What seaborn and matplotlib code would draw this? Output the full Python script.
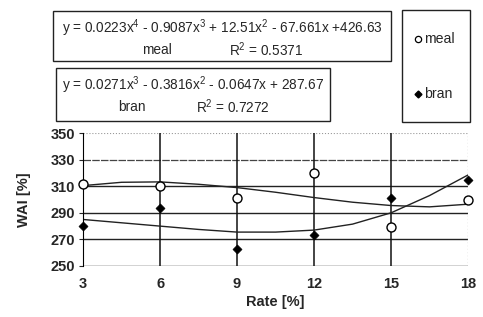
import numpy as np
import pandas as pd
import seaborn as sns
import matplotlib.pyplot as plt
from matplotlib.patches import Rectangle
from matplotlib.lines import Line2D

# data
rate = [3, 6, 9, 12, 15, 18]
meal = [312, 310, 301, 320, 279, 300]
bran = [280, 294, 263, 273, 301, 315]
yticks = [250, 270, 290, 310, 330, 350]

# trend lines as drawn in the picture, read every 1.5 %
trend_x = [3, 4.5, 6, 7.5, 9, 10.5, 12, 13.5, 15, 16.5, 18]
meal_trend = [310.5, 313, 313.3, 311.5, 309, 305.5, 301.5, 298, 295.5, 294.5, 296.5]
bran_trend = [285, 282.5, 280, 277.5, 275.5, 275.5, 277, 281.5, 290, 303, 318.5]

meal_eq = "y = 0.0223x$^{4}$ - 0.9087x$^{3}$ + 12.51x$^{2}$ - 67.661x +426.63"
meal_r2 = "R$^{2}$ = 0.5371"
bran_eq = "y = 0.0271x$^{3}$ - 0.3816x$^{2}$ - 0.0647x + 287.67"
bran_r2 = "R$^{2}$ = 0.7272"

sns.set_style("white")
plt.rcParams['font.family'] = ['Liberation Sans', 'DejaVu Sans']
plt.rcParams['mathtext.fontset'] = 'custom'
plt.rcParams['mathtext.rm'] = 'Liberation Sans'
plt.rcParams['mathtext.it'] = 'Liberation Sans'
plt.rcParams['mathtext.default'] = 'regular'

fig = plt.figure(figsize=(4.83, 3.17), dpi=100)
ax = fig.add_axes([0.172, 0.161, 0.797, 0.419])

# grid
for y in yticks[:4]:
    ax.axhline(y, color='#222222', lw=1.0, zorder=1)
ax.axhline(330, color='#444444', lw=0.9, ls=(0, (6, 1)), zorder=1)
ax.axhline(350, color='#999999', lw=0.8, ls=':', zorder=1)
for x in rate[:-1]:
    ax.axvline(x, color='#111111', lw=1.1, zorder=1)
ax.axvline(18, color='#999999', lw=0.9, ls=':', zorder=1)

sns.lineplot(x=trend_x, y=meal_trend, color='#222222', lw=1.0, ax=ax, zorder=2)
sns.lineplot(x=trend_x, y=bran_trend, color='#222222', lw=1.0, ax=ax, zorder=2)

df = pd.DataFrame({'rate': rate, 'meal': meal, 'bran': bran})
sns.scatterplot(data=df, x='rate', y='meal', marker='o', s=42, facecolor='white',
                edgecolor='black', linewidth=1.0, ax=ax, zorder=3, clip_on=False)
sns.scatterplot(data=df, x='rate', y='bran', marker='D', s=22, color='black',
                edgecolor='black', ax=ax, zorder=3, clip_on=False)

ax.set_xlim(3, 18)
ax.set_ylim(250, 350)
ax.set_xticks(rate)
ax.set_yticks(yticks)
for lab in ax.get_xticklabels() + ax.get_yticklabels():
    lab.set_fontweight('bold')
    lab.set_fontsize(10.5)
ax.tick_params(axis='x', pad=8, length=0)
ax.tick_params(axis='y', pad=3, length=3, direction='out', left=True)
ax.set_xlabel('Rate [%]', fontweight='bold', fontsize=10.5, labelpad=3)
ax.set_ylabel('WAI [%]', fontweight='bold', fontsize=10.5, labelpad=14)
for s in ['top', 'right']:
    ax.spines[s].set_visible(False)
ax.spines['left'].set_color('black')
ax.spines['bottom'].set_visible(False)

# equation boxes
def box(x0, y0, x1, y1):
    fig.patches.append(Rectangle((x0 / 483, 1 - y1 / 317), (x1 - x0) / 483, (y1 - y0) / 317,
                                 transform=fig.transFigure, fill=False,
                                 edgecolor='#222222', lw=1.0))

fs = 9.8
box(53, 11, 391, 61)
fig.text(222 / 483, 1 - 28 / 317, meal_eq, ha='center', va='center', fontsize=fs)
fig.text(157 / 483, 1 - 50 / 317, 'meal', ha='center', va='center', fontsize=fs)
fig.text(266 / 483, 1 - 50 / 317, meal_r2, ha='center', va='center', fontsize=fs)

box(56, 68, 330, 121)
fig.text(193 / 483, 1 - 85 / 317, bran_eq, ha='center', va='center', fontsize=fs)
fig.text(132 / 483, 1 - 107 / 317, 'bran', ha='center', va='center', fontsize=fs)
fig.text(233 / 483, 1 - 107 / 317, bran_r2, ha='center', va='center', fontsize=fs)

# legend box
box(402, 10, 470, 122)
fig.lines.append(Line2D([418 / 483], [1 - 39 / 317], marker='o', ms=4.5, mfc='white',
                        mec='black', mew=0.9, transform=fig.transFigure))
fig.text(424 / 483, 1 - 39 / 317, 'meal', ha='left', va='center', fontsize=fs + 0.4)
fig.lines.append(Line2D([418 / 483], [1 - 94 / 317], marker='D', ms=3.5, color='black',
                        transform=fig.transFigure))
fig.text(424 / 483, 1 - 94 / 317, 'bran', ha='left', va='center', fontsize=fs + 0.4)

fig.savefig('out.png', dpi=100)
